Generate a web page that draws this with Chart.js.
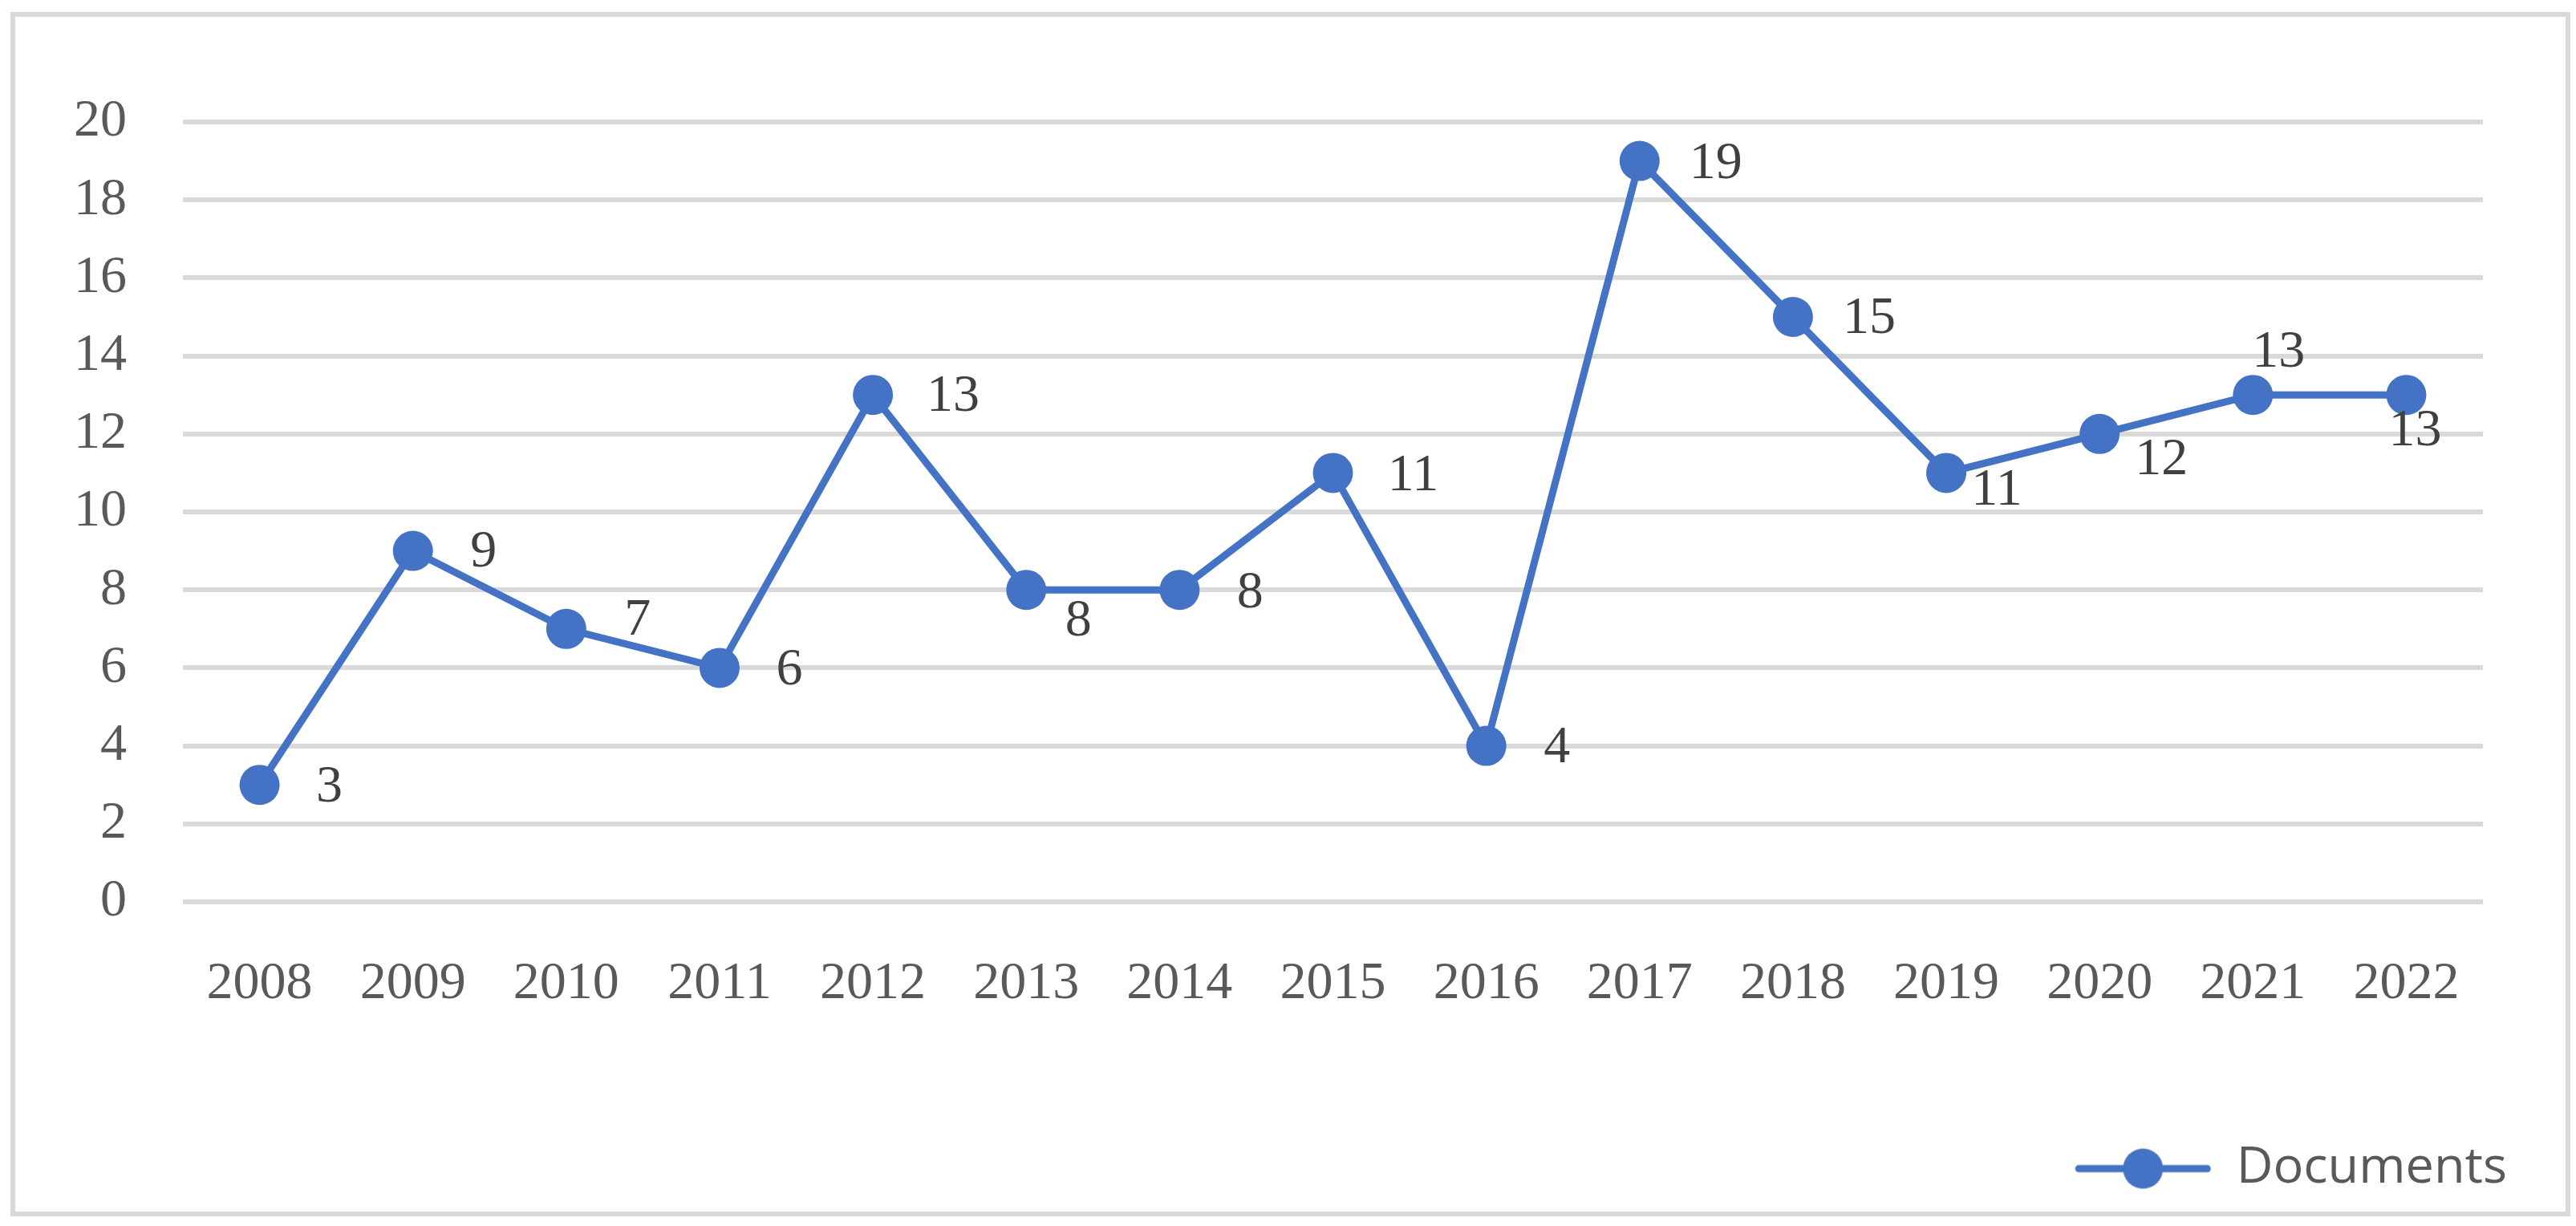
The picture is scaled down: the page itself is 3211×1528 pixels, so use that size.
<!DOCTYPE html>
<html>
<head>
<meta charset="utf-8">
<script src="https://cdn.jsdelivr.net/npm/chart.js@4"></script>
<style>
  html, body { margin: 0; padding: 0; background: #fff; }
  #wrap { position: relative; width: 3211px; height: 1528px; }
  #frame {
    position: absolute; left: 13px; top: 15px; width: 3191px; height: 1501px;
    box-sizing: border-box; border: 6px solid #d9d9d9;
  }
  #chart { position: absolute; left: 0; top: 0; }
</style>
</head>
<body>
<div id="wrap">
  <div id="frame"></div>
  <canvas id="chart" width="3211" height="1528"></canvas>
</div>
<script>
const years = ['2008', '2009', '2010', '2011', '2012', '2013', '2014', '2015',
               '2016', '2017', '2018', '2019', '2020', '2021', '2022'];
const documents = [3, 9, 7, 6, 13, 8, 8, 11, 4, 19, 15, 11, 12, 13, 13];
const yTicks = [0, 2, 4, 6, 8, 10, 12, 14, 16, 18, 20];

const BLUE = '#4472C4';

// where each value label sits, relative to its point (px)
const labelOffsets = [
    [87, 3], [88, 2], [89, -10], [87, 3], [100, 2], [65, 39], [88, 4], [100, 4],
    [88, 3], [95, 4], [95, 3], [63, 22], [77, 33], [32, -53], [11, 45]
];

// legend symbol: line with a dot through it
function legendSymbol() {
    const c = document.createElement('canvas');
    c.width = 170;
    c.height = 52;
    const g = c.getContext('2d');
    g.strokeStyle = BLUE;
    g.lineWidth = 9;
    g.lineCap = 'round';
    g.beginPath();
    g.moveTo(5, 26);
    g.lineTo(165, 26);
    g.stroke();
    g.fillStyle = BLUE;
    g.beginPath();
    g.arc(85, 26, 25, 0, Math.PI * 2);
    g.fill();
    return c;
}

const valueLabels = {
    id: 'valueLabels',
    afterDatasetsDraw(chart) {
        const ctx = chart.ctx;
        const meta = chart.getDatasetMeta(0);
        ctx.save();
        ctx.font = '66px "Liberation Serif"';
        ctx.fillStyle = '#404040';
        ctx.textAlign = 'center';
        ctx.textBaseline = 'middle';
        meta.data.forEach((pt, i) => {
            const off = labelOffsets[i];
            ctx.fillText(String(documents[i]), pt.x + off[0], pt.y + off[1]);
        });
        ctx.restore();
    }
};

const symbol = legendSymbol();

new Chart(document.getElementById('chart').getContext('2d'), {
    type: 'line',
    data: {
        labels: years,
        datasets: [{
            label: 'Documents',
            data: documents,
            borderColor: BLUE,
            backgroundColor: BLUE,
            borderWidth: 9,
            pointRadius: 25,
            pointHoverRadius: 25,
            pointBackgroundColor: BLUE,
            pointBorderWidth: 0,
            tension: 0,
            fill: false
        }]
    },
    options: {
        responsive: false,
        animation: false,
        events: [],
        layout: {
            padding: { left: 0, top: 152, right: 76, bottom: 30 }
        },
        scales: {
            x: {
                type: 'category',
                offset: true,
                grid: { display: false },
                border: { display: false },
                ticks: {
                    color: '#595959',
                    font: { family: '"Liberation Serif"', size: 66 },
                    padding: 55,
                    maxRotation: 0,
                    autoSkip: false
                },
                afterFit: s => { s.height = 291; }
            },
            y: {
                min: 0,
                max: 20,
                grid: { color: '#d9d9d9', lineWidth: 6, drawTicks: false },
                border: { display: false },
                afterBuildTicks: s => { s.ticks = yTicks.map(v => ({ value: v })); },
                ticks: {
                    color: '#595959',
                    font: { family: '"Liberation Serif"', size: 66 },
                    padding: 70
                },
                afterFit: s => { s.width = 228; }
            },
            yRight: {
                position: 'right',
                grid: { display: false },
                border: { display: false },
                ticks: { display: false },
                afterFit: s => { s.width = 40; }
            }
        },
        plugins: {
            legend: {
                position: 'bottom',
                align: 'end',
                labels: {
                    usePointStyle: true,
                    pointStyleWidth: 170,
                    color: '#595959',
                    font: { family: '"Open Sans"', size: 63 },
                    padding: 10,
                    generateLabels: chart => chart.data.datasets.map((ds, i) => ({
                        text: ds.label,
                        pointStyle: symbol,
                        fillStyle: BLUE,
                        strokeStyle: BLUE,
                        lineWidth: 0,
                        fontColor: '#595959',
                        datasetIndex: i
                    }))
                }
            },
            tooltip: { enabled: false }
        }
    },
    plugins: [valueLabels]
});
</script>
</body>
</html>
